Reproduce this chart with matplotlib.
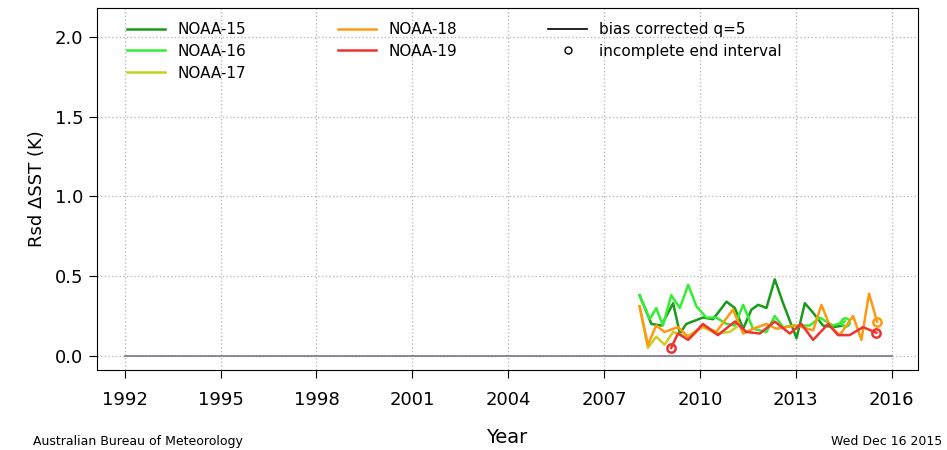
import matplotlib
matplotlib.use('Agg')
import matplotlib.pyplot as plt

n15_x = [2008.11, 2008.48, 2008.79, 2009.16, 2009.37, 2009.57, 2010.09, 2010.41, 2010.83, 2011.09, 2011.35, 2011.61, 2011.82, 2012.08, 2012.34, 2012.60, 2013.02, 2013.28, 2013.54, 2013.85, 2014.16, 2014.48]
n15_y = [0.38, 0.20, 0.19, 0.33, 0.14, 0.20, 0.24, 0.23, 0.34, 0.30, 0.17, 0.29, 0.32, 0.30, 0.48, 0.33, 0.11, 0.33, 0.27, 0.19, 0.18, 0.19]
n16_x = [2008.11, 2008.43, 2008.63, 2008.84, 2009.10, 2009.37, 2009.63, 2009.89, 2010.20, 2010.51, 2010.83, 2011.09, 2011.35, 2011.66, 2012.08, 2012.34, 2012.60, 2012.91, 2013.43, 2013.75, 2014.16, 2014.53]
n16_y = [0.38, 0.23, 0.30, 0.19, 0.38, 0.30, 0.445, 0.31, 0.24, 0.24, 0.20, 0.19, 0.32, 0.17, 0.15, 0.25, 0.18, 0.19, 0.19, 0.24, 0.19, 0.215]
n17_x = [2008.11, 2008.37, 2008.63, 2008.89, 2009.16, 2009.57, 2010.09, 2010.51, 2010.93, 2011.14]
n17_y = [0.31, 0.05, 0.12, 0.07, 0.15, 0.12, 0.18, 0.14, 0.15, 0.18]
n18_x = [2008.11, 2008.37, 2008.63, 2008.89, 2009.31, 2009.68, 2010.09, 2010.51, 2011.03, 2011.35, 2011.66, 2012.08, 2012.39, 2012.70, 2013.02, 2013.54, 2013.80, 2014.06, 2014.37, 2014.79, 2015.05, 2015.29, 2015.54]
n18_y = [0.31, 0.07, 0.19, 0.15, 0.18, 0.11, 0.19, 0.15, 0.29, 0.14, 0.17, 0.20, 0.17, 0.18, 0.19, 0.16, 0.32, 0.19, 0.13, 0.25, 0.10, 0.39, 0.215]
n19_x = [2009.10, 2009.31, 2009.63, 2010.09, 2010.56, 2011.09, 2011.45, 2011.87, 2012.34, 2012.81, 2013.17, 2013.54, 2014.01, 2014.32, 2014.68, 2015.10, 2015.52]
n19_y = [0.05, 0.14, 0.10, 0.20, 0.13, 0.215, 0.15, 0.14, 0.215, 0.14, 0.20, 0.10, 0.20, 0.13, 0.13, 0.18, 0.145]

series = [('NOAA-15', n15_x, n15_y, '#1a9a1a', False, False),
          ('NOAA-16', n16_x, n16_y, '#33ee33', False, True),
          ('NOAA-17', n17_x, n17_y, '#cccc22', False, False),
          ('NOAA-18', n18_x, n18_y, '#ff9911', False, True),
          ('NOAA-19', n19_x, n19_y, '#ee3333', True, True)]

fig = plt.figure(figsize=(9.47, 4.5), dpi=100)
ax = fig.add_axes([0.102, 0.178, 0.867, 0.804])

ax.plot([1992, 2016], [0, 0], color='#777788', lw=1.2)
for name, x, y, c, cstart, cend in series:
    ax.plot(x, y, color=c, lw=1.8, label=name)
    if cstart:
        ax.plot(x[0], y[0], 'o', mfc='none', mec=c, ms=6, mew=1.8)
    if cend:
        ax.plot(x[-1], y[-1], 'o', mfc='none', mec=c, ms=6, mew=1.8)
ax.plot([], [], color='black', lw=1.2, label='bias corrected q=5')
ax.plot([], [], 'o', mfc='none', mec='black', ms=5, label='incomplete end interval')

ax.set_xlim(1991.12, 2016.81)
ax.set_ylim(-0.088, 2.18)
ax.set_xticks(range(1992, 2017, 3))
ax.set_yticks([0.0, 0.5, 1.0, 1.5, 2.0])
ax.set_yticklabels(['0.0', '0.5', '1.0', '1.5', '2.0'])
ax.grid(True, color='#bbbbbb', ls=':', lw=1)
ax.tick_params(direction='out', length=6, labelsize=13)
ax.tick_params(axis='x', pad=9)
ax.set_ylabel('Rsd ΔSST (K)', fontsize=13, labelpad=6)
ax.set_xlabel('Year', fontsize=14, labelpad=14)
ax.legend(loc='upper left', ncol=3, frameon=False, fontsize=11,
          bbox_to_anchor=(0.02, 1.0), columnspacing=6, handlelength=2.5,
          labelspacing=0.45)

fig.text(0.035, 0.012, 'Australian Bureau of Meteorology', fontsize=9)
fig.text(0.995, 0.012, 'Wed Dec 16 2015', fontsize=9, ha='right')
fig.savefig('out.png', dpi=100)
